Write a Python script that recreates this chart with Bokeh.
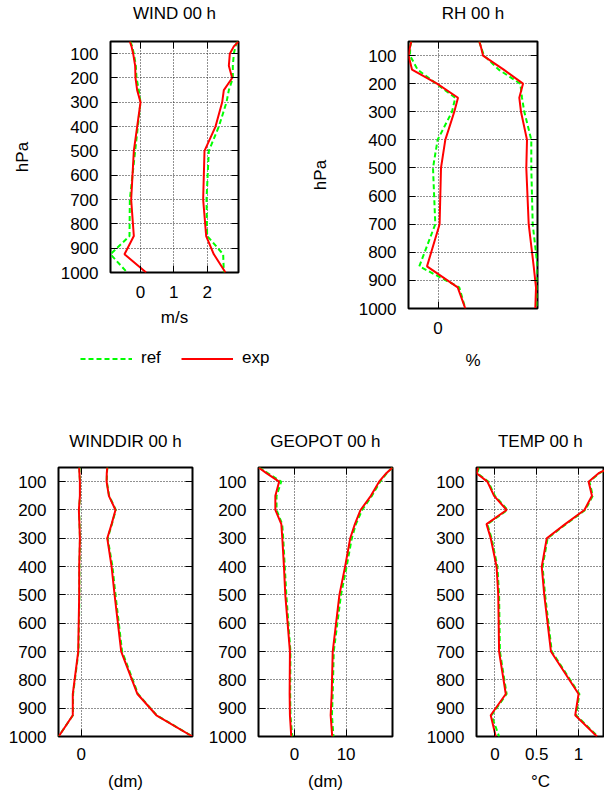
import numpy as np
from bokeh.plotting import figure
from bokeh.models import (Range1d, FixedTicker, LinearAxis, Legend, LegendItem,
                          CustomJSTickFormatter)
from bokeh.layouts import row, column
from bokeh.embed import file_html
from bokeh.resources import INLINE

# ---------------- data ----------------
levels = [50, 70, 100, 150, 200, 250, 300, 400, 500, 700, 850, 925, 1000]
y_ticks = [100, 200, 300, 400, 500, 600, 700, 800, 900, 1000]

wind_exp_bias = [-0.32, -0.27, -0.22, -0.16, -0.15, -0.10, 0.00, -0.10, -0.20, -0.28, -0.20, -0.48, 0.17]
wind_ref_bias = [-0.30, -0.25, -0.20, -0.14, -0.12, -0.05, 0.00, -0.08, -0.16, -0.32, -0.33, -0.90, -0.40]
wind_exp_rms = [2.94, 2.80, 2.68, 2.65, 2.75, 2.50, 2.45, 2.25, 1.92, 1.88, 1.97, 2.20, 2.55]
wind_ref_rms = [2.90, 2.85, 2.80, 2.77, 2.77, 2.65, 2.58, 2.35, 2.05, 1.98, 2.00, 2.48, 2.50]
wind_xticks = [0, 1, 2]

rh_exp_bias = [-2.67, -2.80, -2.95, -2.60, -0.10, 2.00, 1.63, 0.73, 0.30, 0.16, -1.10, 1.97, 2.73]
rh_ref_bias = [-2.67, -2.78, -2.80, -2.04, -0.17, 1.73, 1.40, -0.04, -0.50, -0.27, -1.87, 2.13, 2.73]
rh_exp_rms = [4.13, 4.30, 4.50, 6.57, 8.50, 8.13, 8.30, 8.90, 8.83, 9.07, 9.57, 9.80, 9.73]
rh_ref_rms = [4.13, 4.30, 4.60, 6.07, 8.23, 8.40, 8.63, 9.33, 9.33, 9.47, 9.95, 9.90, 9.90]
rh_xticks = [0]

wdir_exp_bias = [-0.67, -0.60, -0.44, -0.44, -0.78, -0.60, -0.44, -0.67, -0.67, -1.00, -2.80, -2.80, -7.50]
wdir_ref_bias = [-0.60, -0.55, -0.40, -0.40, -0.70, -0.55, -0.40, -0.60, -0.60, -0.90, -2.70, -2.75, -7.55]
wdir_exp_rms = [8.67, 8.50, 8.44, 9.20, 11.40, 10.10, 8.67, 10.10, 11.10, 13.30, 18.70, 25.00, 37.00]
wdir_ref_rms = [8.70, 8.55, 8.50, 9.30, 11.50, 10.20, 8.80, 10.40, 11.40, 13.60, 18.90, 25.10, 37.00]
wdir_xticks = [0]

geo_exp_bias = [-7.00, -5.47, -3.00, -3.73, -3.73, -2.57, -2.38, -2.06, -1.80, -0.90, -0.96, -0.90, -0.64]
geo_ref_bias = [-6.90, -5.20, -2.60, -3.50, -3.50, -2.40, -2.20, -1.90, -1.60, -0.80, -0.85, -0.80, -0.45]
geo_exp_rms = [19.00, 17.80, 16.40, 14.80, 12.80, 11.70, 10.80, 9.80, 8.70, 7.40, 7.20, 7.00, 7.30]
geo_ref_rms = [19.00, 17.90, 16.60, 15.00, 13.10, 11.90, 11.10, 10.10, 9.00, 7.60, 7.40, 7.25, 7.55]
geo_xticks = [0, 10]

temp_exp_bias = [-0.20, -0.22, -0.09, -0.01, 0.14, -0.10, -0.05, 0.02, 0.04, 0.05, 0.13, -0.05, 0.01]
temp_ref_bias = [-0.19, -0.21, -0.08, 0.00, 0.15, -0.09, -0.04, 0.03, 0.05, 0.06, 0.14, -0.04, 0.05]
temp_exp_rms = [1.38, 1.24, 1.12, 1.16, 1.07, 0.84, 0.62, 0.56, 0.59, 0.67, 1.00, 0.96, 1.22]
temp_ref_rms = [1.38, 1.25, 1.13, 1.17, 1.08, 0.85, 0.63, 0.57, 0.60, 0.68, 1.01, 0.97, 1.23]
temp_xticks = [0, 0.5, 1]
temp_visible_xmax = 1.31   # the page cuts the panel here

legend_labels = ["ref", "exp"]

# ---------------- style ----------------
FONT = "Liberation Sans"
FS = "17px"
RED = "#ff0000"
GREEN = "#00ff00"
REF_DASH = "5 3"


def fmt():
    return CustomJSTickFormatter(code="return tick.toString()")


def blank_fmt():
    return CustomJSTickFormatter(code="return ''")


def panel(title, ref_l, exp_l, ref_r, exp_r, xticks, width, height, borders,
          xlabel, ylabel=None, xend=None, mirror_right=True, title_gap=17,
          tl_standoff=11, xl_standoff=9):
    allx = ref_l + exp_l + ref_r + exp_r
    x0 = min(allx)
    x1 = max(allx) if xend is None else xend
    p = figure(width=width, height=height,
               x_range=Range1d(x0, x1), y_range=Range1d(1000, 50),
               output_backend="svg", toolbar_location=None,
               min_border_left=borders[0], min_border_right=borders[1],
               min_border_top=borders[2], min_border_bottom=borders[3])

    p.outline_line_color = "black"
    p.outline_line_width = 2
    p.outline_line_alpha = 1
    p.background_fill_color = "white"
    p.border_fill_color = "white"

    for ax, ticks in ((p.xaxis[0], xticks), (p.yaxis[0], y_ticks)):
        ax.ticker = FixedTicker(ticks=ticks)
        ax.formatter = fmt()
        ax.major_tick_in = 7
        ax.major_tick_out = 0
        ax.minor_tick_in = 0
        ax.minor_tick_out = 0
        ax.axis_line_color = None
        ax.major_tick_line_color = "black"
        ax.major_tick_line_width = 1
        ax.major_label_text_font = FONT
        ax.major_label_text_font_size = FS
        ax.major_label_text_color = "black"
        ax.axis_label_text_font = FONT
        ax.axis_label_text_font_size = FS
        ax.axis_label_text_font_style = "normal"
        ax.axis_label_text_color = "black"

    p.xaxis[0].major_label_standoff = tl_standoff
    p.xaxis[0].axis_label = xlabel
    p.xaxis[0].axis_label_standoff = xl_standoff
    p.yaxis[0].major_label_standoff = 12
    if ylabel:
        p.yaxis[0].axis_label = ylabel
        p.yaxis[0].axis_label_standoff = 26

    for g in (p.xgrid[0], p.ygrid[0]):
        g.grid_line_color = "#222222"
        g.grid_line_dash = "1 2"
        g.grid_line_width = 1
        g.grid_line_alpha = 1.0

    # mirrored ticks (gnuplot style); the top axis carries the panel title
    top = LinearAxis(ticker=FixedTicker(ticks=xticks), formatter=blank_fmt(),
                     major_label_standoff=0, major_tick_in=7, major_tick_out=0,
                     minor_tick_in=0, minor_tick_out=0, axis_line_color=None,
                     axis_label=title, axis_label_standoff=title_gap,
                     axis_label_text_font=FONT, axis_label_text_font_size=FS,
                     axis_label_text_font_style="normal", axis_label_text_color="black")
    p.add_layout(top, "above")
    if mirror_right:
        rgt = LinearAxis(ticker=FixedTicker(ticks=y_ticks), formatter=blank_fmt(),
                         major_label_standoff=0, major_tick_in=7, major_tick_out=0,
                         minor_tick_in=0, minor_tick_out=0, axis_line_color=None)
        p.add_layout(rgt, "right")

    p.line(ref_l, levels, line_color=GREEN, line_width=2, line_dash=REF_DASH)
    p.line(ref_r, levels, line_color=GREEN, line_width=2, line_dash=REF_DASH)
    p.line(exp_l, levels, line_color=RED, line_width=2)
    p.line(exp_r, levels, line_color=RED, line_width=2)
    return p


# ---------------- top row ----------------
wind = panel("WIND 00 h", wind_ref_bias, wind_exp_bias, wind_ref_rms, wind_exp_rms,
             wind_xticks, 300, 342, (110, 62, 41, 70), "m/s", ylabel="hPa",
             title_gap=19, tl_standoff=13, xl_standoff=7)
rh = panel("RH 00 h", rh_ref_bias, rh_exp_bias, rh_ref_rms, rh_exp_rms,
           rh_xticks, 300, 378, (108, 63, 41, 70), "%", ylabel="hPa",
           title_gap=19, tl_standoff=13, xl_standoff=14)

# legend strip under the WIND panel (legend proxies hold only a NaN: nothing is drawn)
leg = figure(width=300, height=84, x_axis_type=None, y_axis_type=None,
             x_range=Range1d(0, 1), y_range=Range1d(0, 1),
             toolbar_location=None, output_backend="svg", min_border=0)
if "frame_align" in leg.properties():
    leg.frame_align = False
leg.outline_line_color = None
leg.background_fill_color = "white"
leg.border_fill_color = "white"
nan = np.array([np.nan])
proxy_ref = leg.line(nan, nan, line_color=GREEN, line_width=2, line_dash=REF_DASH)
proxy_exp = leg.line(nan, nan, line_color=RED, line_width=2)
lg = Legend(items=[LegendItem(label=legend_labels[0], renderers=[proxy_ref]),
                   LegendItem(label=legend_labels[1], renderers=[proxy_exp])],
            orientation="horizontal", location=(80, 58),
            border_line_color=None, background_fill_alpha=0,
            label_text_font=FONT, label_text_font_size=FS, label_text_color="black",
            glyph_width=52, glyph_height=19, label_standoff=9,
            spacing=20, margin=0, padding=2)
leg.add_layout(lg, "center")

# ---------------- bottom row ----------------
wdir = panel("WINDDIR 00 h", wdir_ref_bias, wdir_exp_bias, wdir_ref_rms, wdir_exp_rms,
             wdir_xticks, 205, 370, (58, 13, 41, 60), "(dm)", title_gap=17)
geo = panel("GEOPOT 00 h", geo_ref_bias, geo_exp_bias, geo_ref_rms, geo_exp_rms,
            geo_xticks, 215, 370, (52, 28, 41, 60), "(dm)", title_gap=17)
temp = panel("TEMP 00 h", temp_ref_bias, temp_exp_bias, temp_ref_rms, temp_exp_rms,
             temp_xticks, 184, 370, (56, 0, 41, 60), "°C", xend=temp_visible_xmax,
             mirror_right=False, title_gap=17)

layout = column(row(column(wind, leg), rh), row(wdir, geo, temp))

open("out.html", "w").write(file_html(layout, INLINE))
